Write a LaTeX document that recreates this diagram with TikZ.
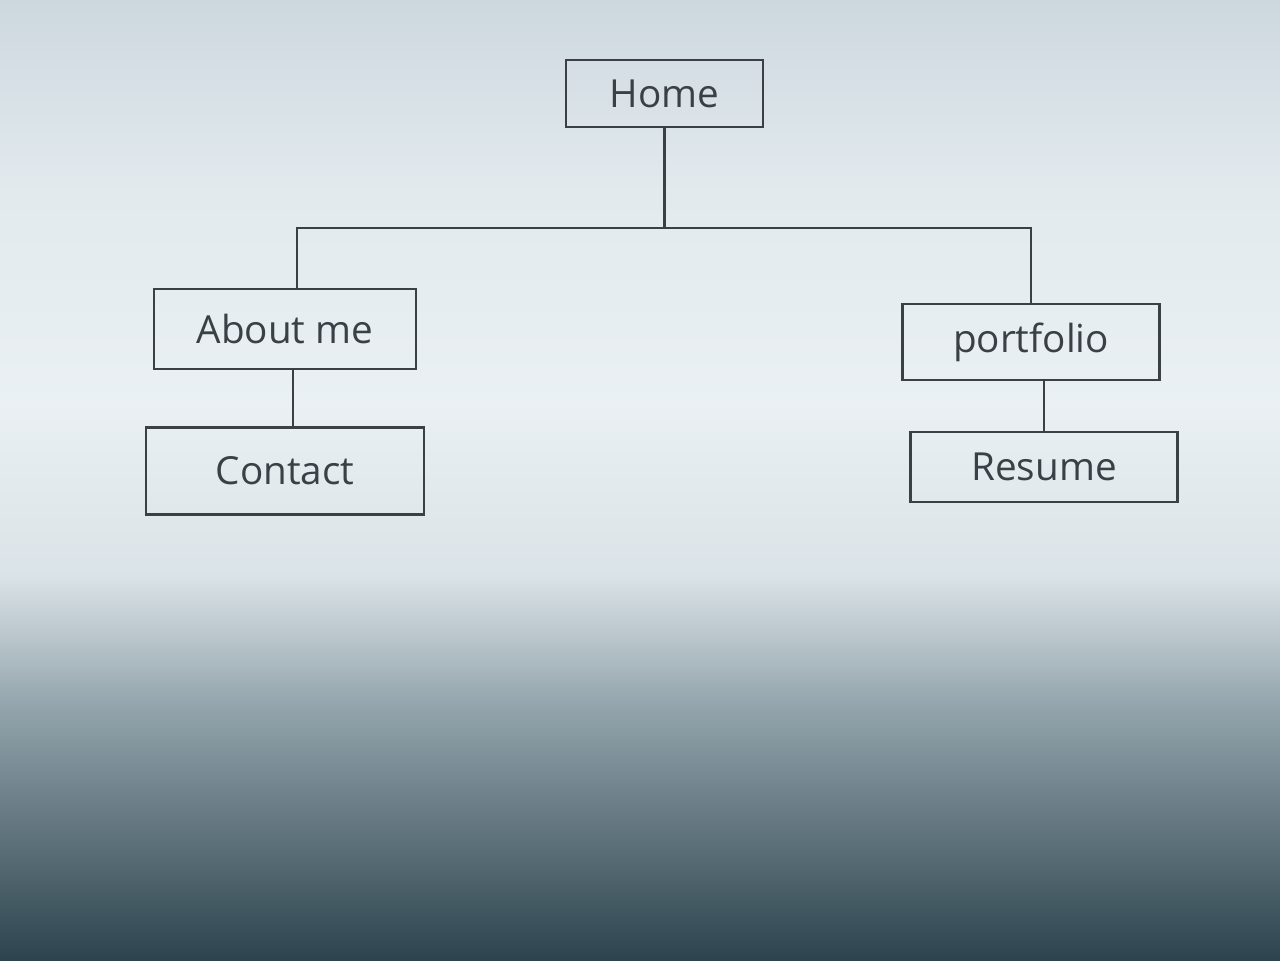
\documentclass[tikz,border=0pt]{standalone}
\usepackage{fontspec}
\setsansfont{Open Sans}
\usetikzlibrary{positioning}
\definecolor{pencil}{RGB}{58,64,70}
\definecolor{paperTop}{RGB}{205,216,222}
\definecolor{paperHigh}{RGB}{226,234,238}
\definecolor{paperMid}{RGB}{234,240,243}
\definecolor{paperLow}{RGB}{218,227,231}
\definecolor{paperDim}{RGB}{145,162,170}
\definecolor{paperDark}{RGB}{45,68,78}
\pgfdeclareverticalshading{paper}{100bp}{color(0bp)=(paperDark); color(25bp)=(paperDark);
  color(38bp)=(paperDim); color(45bp)=(paperLow); color(54bp)=(paperMid);
  color(65bp)=(paperHigh); color(75bp)=(paperTop); color(100bp)=(paperTop)}

\begin{document}
\begin{tikzpicture}[x=1cm, y=-1cm,
    box/.style={rectangle, draw=pencil, line width=0.7pt, text=pencil, font=\sffamily\fontsize{11}{13}\selectfont, inner sep=0pt},
    link/.style={draw=pencil, line width=0.6pt}]
    % paper
    \shade[shading=paper] (0,0) rectangle (12.8,9.6);
    \useasboundingbox (0,0) rectangle (12.8,9.6);

    \node[box, minimum width=1.97cm, minimum height=0.67cm] (home) at (6.645,0.935) {Home};
    \node[box, minimum width=2.62cm, minimum height=0.80cm] (about) at (2.85,3.29) {About me};
    \node[box, minimum width=2.78cm, minimum height=0.87cm] (contact) at (2.85,4.71) {Contact};
    \node[box, minimum width=2.57cm, minimum height=0.76cm] (portfolio) at (10.31,3.42) {portfolio};
    \node[box, minimum width=2.67cm, minimum height=0.70cm] (resume) at (10.44,4.67) {Resume};

    \coordinate (hub) at (6.645,2.28);

    \draw[link] (home.south) -- (hub);
    \draw[link] ([xshift=1.2mm]about.north) |- (hub) -| (portfolio.north);
    \draw[link] ([xshift=0.8mm]about.south) -- ([xshift=0.8mm]contact.north);
    \draw[link] (resume.north |- portfolio.south) -- (resume.north);
\end{tikzpicture}
\end{document}
